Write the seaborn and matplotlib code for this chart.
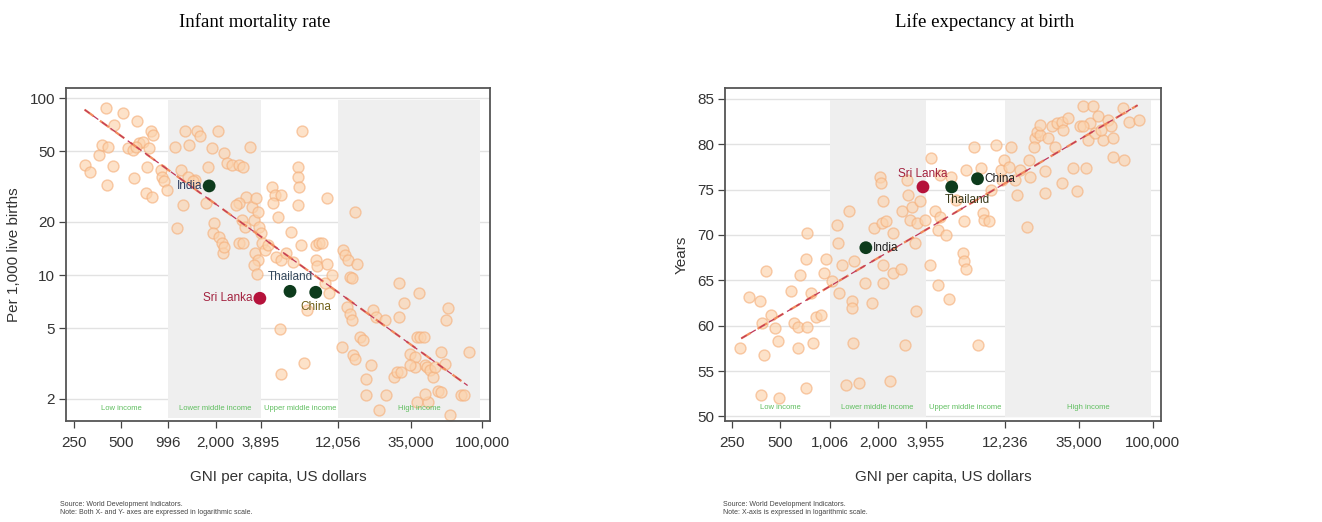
import numpy as np
import pandas as pd
import matplotlib
matplotlib.use("Agg")
import matplotlib.pyplot as plt
import seaborn as sns
from matplotlib.ticker import FixedLocator, FixedFormatter, NullLocator

# ---------------- data ----------------
imr_gni = [293, 318, 402, 406, 360, 376, 414, 450, 447, 514, 552, 593, 601, 631, 653, 685,
           736, 754, 780, 802, 719, 791, 892, 914, 936, 981, 622,
           1106, 1133, 1240, 1277, 1360, 1525, 1585, 1475, 1200, 1340, 1440, 1745, 1900, 1800,
           2073, 2270, 2350, 2560, 2815, 2970, 3331, 1966, 1920, 2113, 2200, 2220, 2270, 2815,
           2970, 3130, 2815, 2955, 3410, 3610, 3494, 3720, 3780, 3880, 3570, 3750, 3494, 3940,
           3666, 2685, 3100,
           4133, 4337, 4550, 4773, 4659, 5007, 5253, 4887, 5253, 5643, 6065, 6211, 6675, 6675,
           6835, 6675, 7000, 7100, 7340, 5253, 5127, 8686, 9113, 9560, 8686, 8900, 10270, 10270,
           11040, 10520, 7700, 10030,
           12930, 13370, 14030, 14370, 14710, 15440, 15970, 13700, 14370, 14710, 12740, 15070,
           15440, 16600, 17400, 18260, 19620, 20100, 21080, 24100, 22120, 24340, 18260, 27440,
           28780, 30200, 29480, 29480, 31680, 34870, 37470, 38370, 39300, 40260, 42230, 43270,
           44300, 46480, 48760, 49940, 54970, 57670, 59060, 60500, 61960, 38370, 45400, 52400,
           54970, 73270, 76900, 82600, 37470, 43270, 34870]
imr_val = [41.9, 38.4, 87.8, 32.3, 47.8, 54.4, 53.2, 70.6, 41.4, 82.2, 52.1, 51.0, 35.3, 73.8,
           55.6, 56.8, 41.0, 52.1, 64.8, 62.0, 29.0, 27.8, 39.3, 35.9, 33.8, 30.2, 53.2,
           53.2, 18.4, 24.9, 65.5, 54.4, 64.8, 61.0, 34.5, 39.3, 35.9, 33.8, 25.5, 52.1, 40.7,
           64.8, 48.8, 42.8, 41.9, 41.9, 41.0, 53.2, 19.6, 17.2, 16.5, 15.1, 13.3, 14.5, 15.1,
           15.1, 27.8, 25.5, 20.5, 24.4, 27.2, 20.5, 22.8, 18.8, 17.2, 13.3, 12.2, 11.4, 15.1,
           10.2, 24.9, 18.8,
           13.9, 14.8, 31.6, 28.4, 25.5, 21.4, 28.4, 12.7, 12.2, 13.3, 17.6, 11.9, 41.0, 36.0,
           31.6, 24.9, 14.8, 64.8, 3.17, 2.78, 4.99, 14.8, 15.1, 15.1, 12.2, 11.2, 27.2, 11.6,
           10.0, 7.88, 6.34, 8.97,
           13.9, 13.0, 12.2, 9.8, 9.58, 22.8, 11.6, 6.62, 6.07, 5.57, 3.93, 3.53,
           3.38, 4.48, 4.29, 2.60, 3.10, 6.34, 5.81, 5.57, 1.73, 2.09, 2.09, 2.66,
           2.84, 2.84, 5.81, 8.97, 6.92, 3.60, 3.45, 4.48, 7.88, 4.48, 4.48, 3.10,
           3.03, 2.90, 2.66, 3.03, 3.68, 3.16, 5.57, 6.48, 1.62, 1.92, 1.92, 2.23,
           2.19, 2.09, 2.09, 3.68, 3.03, 2.14, 3.10]

le_gni = [282, 319, 372, 381, 385, 396, 404, 436, 464, 482, 492, 581, 609, 639, 645, 662, 718,
          725, 725, 718, 771, 790, 828, 887, 930, 952,
          1046, 1112, 1133, 1149, 1204, 1279, 1323, 1386, 1386, 1406, 1419, 1523, 1673, 1838,
          1882, 2067, 2087, 2116, 2166, 2166, 2166, 2250, 2380, 2494, 2494, 2766, 2806, 2941,
          3010, 3080, 3155, 3230, 3386, 3434, 3500, 3632,
          3898, 4182, 4282, 4488, 4700, 4700, 4815, 4815, 5289, 5490, 5675, 6090, 6689, 6850,
          7011, 6850, 7011, 7885, 8264, 8662, 8867, 9080, 9741, 9973, 10700, 11480, 12030, 11750,
          13220, 12910, 14180, 14520, 15220, 16710, 17110, 17520, 18800, 19250, 20170, 21640,
          21640, 22680, 23770, 25500, 27370, 27370, 28020, 30060, 32260, 33810, 35440, 37150,
          38930, 39850, 40800, 42770, 43770, 45880, 49230, 52820, 55360, 56680, 56680, 65260,
          66810, 71690, 82540, 18360, 20170, 24910, 37150, 48090]
le_val = [57.5, 63.2, 62.7, 52.4, 60.3, 56.8, 66.0, 61.2, 59.7, 58.3, 52.0, 63.8, 60.3, 59.9,
          57.5, 65.6, 67.3, 70.2, 59.9, 53.1, 63.6, 58.1, 61.0, 61.2, 65.8, 67.3,
          64.9, 71.1, 69.1, 63.6, 66.7, 53.5, 72.6, 62.7, 61.9, 58.1, 67.1, 53.7, 64.7, 62.5,
          70.8, 76.4, 75.7, 71.3, 73.7, 64.7, 66.7, 71.5, 53.9, 70.2, 65.8, 66.3, 72.6, 57.9,
          76.1, 74.4, 71.7, 73.1, 69.1, 61.6, 71.3, 73.7,
          71.7, 66.7, 78.5, 72.6, 64.5, 70.6, 72.0, 76.6, 70.0, 62.9, 76.4, 73.9, 68.0, 67.1,
          66.2, 71.5, 77.2, 79.7, 57.9, 77.4, 72.4, 71.7, 71.5, 75.0, 79.9, 77.2, 78.3, 76.1,
          79.7, 77.5, 76.1, 74.4, 77.2, 70.9, 78.3, 76.4, 80.7, 81.4, 81.0, 77.0,
          74.6, 80.7, 82.0, 82.3, 82.5, 75.7, 81.6, 82.9, 77.4, 74.8, 82.0, 84.2,
          77.4, 80.5, 82.3, 84.2, 81.2, 83.1, 80.5, 82.7, 82.0, 80.7, 78.6, 84.0,
          78.3, 82.5, 82.7, 79.7, 82.1, 79.7, 82.0, 81.6]

countries = ["India", "Sri Lanka", "Thailand", "China"]
imr_hl_gni = [1820, 3830, 5960, 8690]
imr_hl_val = [31.9, 7.4, 8.1, 8.0]
le_hl_gni = [1685, 3800, 5720, 8260]
le_hl_val = [68.6, 75.3, 75.3, 76.2]
hl_colors = ["#0d3b1c", "#b5123b", "#0d3b1c", "#0d3b1c"]

# fitted lines (end points)
imr_fit_gni = [293, 80650]
imr_fit_val = [86.0, 2.38]
le_fit_gni = [286, 80620]
le_fit_val = [58.6, 84.3]

imr_xticks = [250, 500, 996, 2000, 3895, 12056, 35000, 100000]
imr_yticks = [2, 5, 10, 20, 50, 100]
le_xticks = [250, 500, 1006, 2000, 3955, 12236, 35000, 100000]
le_yticks = [50, 55, 60, 65, 70, 75, 80, 85]

income_groups = ["Low income", "Lower middle income", "Upper middle income", "High income"]
imr_bounds = [996, 3895, 12056, 97000]
le_bounds = [1006, 3955, 12236, 97000]
label_x = [500, 1990, 6900, 40000]

titles = ["Infant mortality rate", "Life expectancy at birth"]
ylabels = ["Per 1,000 live births", "Years"]
xlabel = "GNI per capita, US dollars"
notes = ["Source: World Development Indicators.\nNote: Both X- and Y- axes are expressed in logarithmic scale.",
         "Source: World Development Indicators.\nNote: X-axis is expressed in logarithmic scale."]

# ---------------- plotting ----------------
sns.set_theme(style="white")
plt.rcParams["font.family"] = ["Liberation Sans", "DejaVu Sans"]

W, H = 1322, 522
fig = plt.figure(figsize=(W / 100, H / 100), dpi=100)
top_px, bot_px = 88, 421
ax1 = fig.add_axes([66 / W, 1 - bot_px / H, (490 - 66) / W, (bot_px - top_px) / H])
ax2 = fig.add_axes([725 / W, 1 - bot_px / H, (1161 - 725) / W, (bot_px - top_px) / H])

pt_face = "#fcd3ad"
pt_edge = "#f5b07c"
band_col = "#efefef"
grid_col = "#e2e2e2"

def setup(ax, gni, val, hl_gni, hl_val, fit_gni, fit_val, xticks, yticks, bounds,
          xlim, ylim, logy, band_frac, lab_y):
    ax.set_xscale("log")
    if logy:
        ax.set_yscale("log")
    ax.set_xlim(*xlim)
    ax.set_ylim(*ylim)
    for yt in yticks:
        ax.axhline(yt, color=grid_col, lw=1.0, zorder=0)
    ax.axvspan(bounds[0], bounds[1], ymin=band_frac[0], ymax=band_frac[1],
               color=band_col, lw=0, zorder=0.5)
    ax.axvspan(bounds[2], bounds[3], ymin=band_frac[0], ymax=band_frac[1],
               color=band_col, lw=0, zorder=0.5)
    df = pd.DataFrame({"gni": gni, "val": val})
    sns.scatterplot(data=df, x="gni", y="val", ax=ax, s=62, color=pt_face,
                    edgecolor=pt_edge, linewidth=1.0, alpha=0.65, zorder=2, legend=False)
    fit = pd.DataFrame({"gni": fit_gni, "val": fit_val})
    sns.lineplot(data=fit, x="gni", y="val", ax=ax, color="#f08a5d", lw=1.6, zorder=3,
                 legend=False)
    ax.lines[-1].set_dashes([5, 3.5])
    sns.lineplot(data=fit, x="gni", y="val", ax=ax, color="#c0395a", lw=0.9, zorder=3.1,
                 legend=False)
    ax.lines[-1].set_dashes([5, 3.5])
    for gx, gy, col in zip(hl_gni, hl_val, hl_colors):
        sns.scatterplot(x=[gx], y=[gy], ax=ax, s=85, color=col, alpha=1.0,
                        edgecolor="none", zorder=5, legend=False)
    for name, lx in zip(income_groups, label_x):
        ax.text(lx, lab_y, name, fontsize=5.5, color="#5fbf5f", ha="center", va="center",
                zorder=6)
    ax.xaxis.set_major_locator(FixedLocator(xticks))
    ax.xaxis.set_major_formatter(FixedFormatter([f"{t:,}" for t in xticks]))
    ax.xaxis.set_minor_locator(NullLocator())
    ax.yaxis.set_major_locator(FixedLocator(yticks))
    ax.yaxis.set_major_formatter(FixedFormatter([f"{t:g}" for t in yticks]))
    ax.yaxis.set_minor_locator(NullLocator())
    ax.tick_params(axis="both", which="major", direction="out", length=5, width=0.9,
                   color="#444444", labelsize=11, labelcolor="#333333",
                   bottom=True, left=True, pad=3)
    ax.tick_params(axis="x", pad=6)
    for sp in ax.spines.values():
        sp.set_color("#555555")
        sp.set_linewidth(1.3)
        sp.set_visible(True)
    ax.set_xlabel(xlabel, fontsize=11, color="#333333", labelpad=14)
    ax.set_ylabel("")
    ax.set_facecolor("white")

setup(ax1, imr_gni, imr_val, imr_hl_gni, imr_hl_val, imr_fit_gni, imr_fit_val,
      imr_xticks, imr_yticks, imr_bounds, (223, 112000), (1.5, 114), True, (0.008, 0.965), 1.77)
setup(ax2, le_gni, le_val, le_hl_gni, le_hl_val, le_fit_gni, le_fit_val,
      le_xticks, le_yticks, le_bounds, (227, 112500), (49.5, 86.2), False, (0.012, 0.963), 51.0)

ax1.set_ylabel(ylabels[0], fontsize=11, color="#333333", labelpad=6)
ax2.set_ylabel(ylabels[1], fontsize=11, color="#333333", labelpad=6)

lab_kw = dict(fontsize=8.5, zorder=6)
ax1.annotate("India", (imr_hl_gni[0], imr_hl_val[0]), xytext=(-5, 0), textcoords="offset points",
             ha="right", va="center", color="#2b3a5c", **lab_kw)
ax1.annotate("Sri Lanka", (imr_hl_gni[1], imr_hl_val[1]), xytext=(-5, 0), textcoords="offset points",
             ha="right", va="center", color="#a3223f", **lab_kw)
ax1.annotate("Thailand", (imr_hl_gni[2], imr_hl_val[2]), xytext=(0, 6), textcoords="offset points",
             ha="center", va="bottom", color="#34485c", **lab_kw)
ax1.annotate("China", (imr_hl_gni[3], imr_hl_val[3]), xytext=(0, -6), textcoords="offset points",
             ha="center", va="top", color="#6f5f18", **lab_kw)
ax2.annotate("India", (le_hl_gni[0], le_hl_val[0]), xytext=(5, 0), textcoords="offset points",
             ha="left", va="center", color="#222222", **lab_kw)
ax2.annotate("Sri Lanka", (le_hl_gni[1], le_hl_val[1]), xytext=(0, 5), textcoords="offset points",
             ha="center", va="bottom", color="#a3223f", **lab_kw)
ax2.annotate("Thailand", (le_hl_gni[2], le_hl_val[2]), xytext=(-5, -5), textcoords="offset points",
             ha="left", va="top", color="#3a3a1a", **lab_kw)
ax2.annotate("China", (le_hl_gni[3], le_hl_val[3]), xytext=(5, 0), textcoords="offset points",
             ha="left", va="center", color="#222222", **lab_kw)

fig.text(255 / W, 1 - 22 / H, titles[0], ha="center", va="center", fontsize=13.5,
         family=["Liberation Serif", "DejaVu Serif"], color="black")
fig.text(985 / W, 1 - 22 / H, titles[1], ha="center", va="center", fontsize=13.5,
         family=["Liberation Serif", "DejaVu Serif"], color="black")

fig.text(60 / W, 1 - 509 / H, notes[0], ha="left", va="center", fontsize=5,
         color="#444444", linespacing=1.2)
fig.text(723 / W, 1 - 509 / H, notes[1], ha="left", va="center", fontsize=5,
         color="#444444", linespacing=1.2)

fig.savefig("out.png", dpi=100)
